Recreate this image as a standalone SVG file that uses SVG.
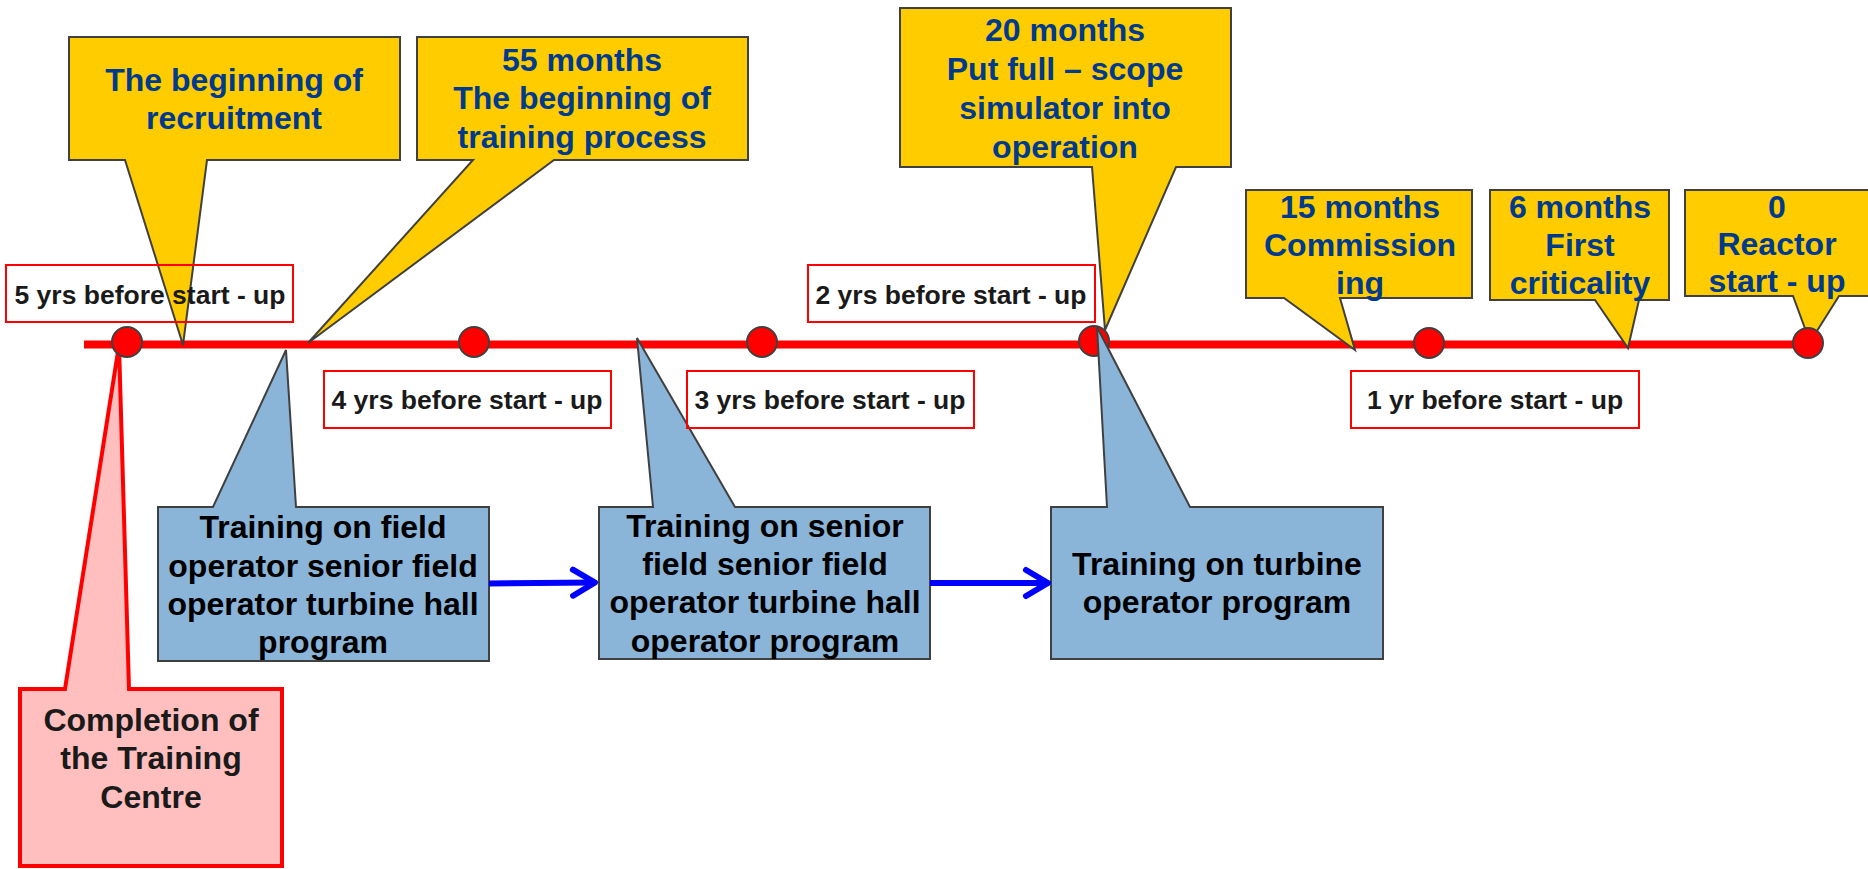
<svg xmlns="http://www.w3.org/2000/svg" width="1868" height="869" viewBox="0 0 1868 869">
<style>
text{font-family:"Liberation Sans",Arial,sans-serif;font-weight:bold;text-anchor:middle}
.yc{fill:#FFCC00;stroke:#404040;stroke-width:2;stroke-linejoin:miter}
.yt{font-size:32px;fill:#003A8C}
.bc{fill:#8AB4D8;stroke:#404040;stroke-width:2}
.bt{font-size:32px;fill:#000}
.lb{fill:none;stroke:#FF0000;stroke-width:2}
.lt{font-size:26.5px;fill:#1A1A1A}
.dot{fill:#FF0000;stroke:#404040;stroke-width:2}
.arr{stroke:#0000FF;stroke-width:6;fill:none}
</style>
<defs>
<marker id="ah" markerUnits="userSpaceOnUse" viewBox="-30 -18 36 36" refX="0" refY="0" markerWidth="36" markerHeight="36" orient="auto">
<path d="M-22,-13 L0,0 L-22,13" fill="none" stroke="#0000FF" stroke-width="6" stroke-linecap="round" stroke-linejoin="round"/>
</marker>
</defs>
<rect width="1868" height="869" fill="#FFFFFF"/>
<g id="timeline">
<line x1="84" y1="344.5" x2="1808" y2="344.5" stroke="#FF0000" stroke-width="8"/>
</g>
<g id="recruitment">
<path class="yc" d="M69,37 H400 V160 H207 L183,345 L125,160 H69 Z"/>
<text class="yt" x="234" y="91">The beginning of</text>
<text class="yt" x="234" y="129">recruitment</text>
</g>
<g id="m55">
<path class="yc" d="M417,37 H748 V160 H554 L308,343 L473,160 H417 Z"/>
<text class="yt" x="582" y="71">55 months</text>
<text class="yt" x="582" y="109">The beginning of</text>
<text class="yt" x="582" y="148">training process</text>
</g>
<g id="m20">
<path class="yc" d="M900,8 H1231 V167 H1176 L1105,330 L1092,167 H900 Z"/>
<text class="yt" x="1065" y="41">20 months</text>
<text class="yt" x="1065" y="80">Put full – scope</text>
<text class="yt" x="1065" y="119">simulator into</text>
<text class="yt" x="1065" y="158">operation</text>
</g>
<g id="m15">
<path class="yc" d="M1246,190 H1472 V298 H1340 L1355,350 L1284,298 H1246 Z"/>
<text class="yt" x="1360" y="218">15 months</text>
<text class="yt" x="1360" y="256">Commission</text>
<text class="yt" x="1360" y="294">ing</text>
</g>
<g id="m6">
<path class="yc" d="M1490,190 H1669 V300 H1639 L1628,348 L1595,300 H1490 Z"/>
<text class="yt" x="1580" y="218">6 months</text>
<text class="yt" x="1580" y="256">First</text>
<text class="yt" x="1580" y="294">criticality</text>
</g>
<g id="m0">
<path class="yc" d="M1685,190 H1872 V296 H1839 L1810,342 L1793,296 H1685 Z"/>
<text class="yt" x="1777" y="218">0</text>
<text class="yt" x="1777" y="255">Reactor</text>
<text class="yt" x="1777" y="292">start - up</text>
</g>
<g id="completion">
<path d="M20,689 H65 L119,345 L129,689 H282 V866 H20 Z" fill="#FFBFBF" stroke="#FF0000" stroke-width="4"/>
<text class="bt" x="151" y="731" style="fill:#1A1A1A">Completion of</text>
<text class="bt" x="151" y="769" style="fill:#1A1A1A">the Training</text>
<text class="bt" x="151" y="808" style="fill:#1A1A1A">Centre</text>
</g>
<g id="milestones">
<circle class="dot" cx="127" cy="342" r="15"/>
<circle class="dot" cx="474" cy="342" r="15"/>
<circle class="dot" cx="762" cy="342" r="15"/>
<circle class="dot" cx="1094" cy="341" r="15"/>
<circle class="dot" cx="1429" cy="343" r="15"/>
<circle class="dot" cx="1808" cy="343" r="15"/>
</g>
<g id="training1">
<path class="bc" d="M158,507 H213 L286,350 L296,507 H489 V661 H158 Z"/>
<text class="bt" x="323" y="538">Training on field</text>
<text class="bt" x="323" y="577">operator senior field</text>
<text class="bt" x="323" y="615">operator turbine hall</text>
<text class="bt" x="323" y="653">program</text>
</g>
<g id="training2">
<path class="bc" d="M599,507 H653 L637,338 L735,507 H930 V659 H599 Z"/>
<text class="bt" x="765" y="537">Training on senior</text>
<text class="bt" x="765" y="575">field senior field</text>
<text class="bt" x="765" y="613">operator turbine hall</text>
<text class="bt" x="765" y="652">operator program</text>
</g>
<g id="training3">
<path class="bc" d="M1051,507 H1107 L1097,327 L1190,507 H1383 V659 H1051 Z"/>
<text class="bt" x="1217" y="575">Training on turbine</text>
<text class="bt" x="1217" y="613">operator program</text>
</g>
<g id="connectors">
<line class="arr" x1="489" y1="583.5" x2="595" y2="582.5" marker-end="url(#ah)"/>
<line class="arr" x1="930" y1="583" x2="1048" y2="583" marker-end="url(#ah)"/>
</g>
<g id="label5">
<rect class="lb" x="6" y="265" width="287" height="57"/>
<text class="lt" x="150" y="304">5 yrs before start - up</text>
</g>
<g id="label4">
<rect class="lb" x="324" y="371" width="287" height="57"/>
<text class="lt" x="467" y="409">4 yrs before start - up</text>
</g>
<g id="label3">
<rect class="lb" x="687" y="371" width="287" height="57"/>
<text class="lt" x="830" y="409">3 yrs before start - up</text>
</g>
<g id="label2">
<rect class="lb" x="808" y="265" width="287" height="57"/>
<text class="lt" x="951" y="304">2 yrs before start - up</text>
</g>
<g id="label1">
<rect class="lb" x="1351" y="371" width="288" height="57"/>
<text class="lt" x="1495" y="409">1 yr before start - up</text>
</g>
</svg>
